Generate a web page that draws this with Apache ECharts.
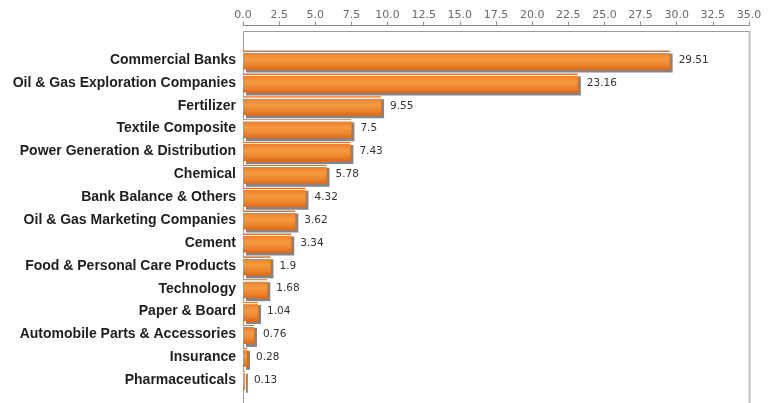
<!DOCTYPE html>
<html>
<head>
<meta charset="utf-8">
<script src="https://cdn.jsdelivr.net/npm/echarts@6/dist/echarts.min.js"></script>
<style>
  html, body { margin: 0; padding: 0; background: #fff; }
  #chart { width: 769px; height: 403px; }
</style>
</head>
<body>
<div id="chart"></div>
<script>
// Sector weights (%), listed top to bottom
var sectors = [
  'Commercial Banks',
  'Oil & Gas Exploration Companies',
  'Fertilizer',
  'Textile Composite',
  'Power Generation & Distribution',
  'Chemical',
  'Bank Balance & Others',
  'Oil & Gas Marketing Companies',
  'Cement',
  'Food & Personal Care Products',
  'Technology',
  'Paper & Board',
  'Automobile Parts & Accessories',
  'Insurance',
  'Pharmaceuticals'
];
var weights = [29.51, 23.16, 9.55, 7.5, 7.43, 5.78, 4.32, 3.62, 3.34, 1.9, 1.68, 1.04, 0.76, 0.28, 0.13];

var axisMin = 0, axisMax = 35, axisStep = 2.5;

var chart = echarts.init(document.getElementById('chart'), null, { renderer: 'canvas' });

// Plot frame edges (pixels)
var frameLeft = 243, frameRight = 749, frameTop = 31, frameBottom = 410;

var barFill = new echarts.graphic.LinearGradient(0, 0, 0, 1, [
  { offset: 0.00, color: '#e2742a' },
  { offset: 0.06, color: '#e2742a' },
  { offset: 0.07, color: '#fff6ea' },
  { offset: 0.12, color: '#fff6ea' },
  { offset: 0.13, color: '#ec8030' },
  { offset: 0.45, color: '#f69a3e' },
  { offset: 0.75, color: '#ee852c' },
  { offset: 1.00, color: '#dd6a1c' }
]);

chart.setOption({
  animation: false,
  grid: { left: frameLeft, right: 769 - frameRight, top: 48.6, bottom: 11.4, containLabel: false },
  xAxis: {
    type: 'value',
    position: 'top',
    min: axisMin,
    max: axisMax,
    interval: axisStep,
    offset: 23,
    axisLine: { show: true, lineStyle: { color: '#8a8a8a', width: 1 } },
    axisTick: { show: true, length: 4, lineStyle: { color: '#8a8a8a' } },
    splitLine: { show: false },
    axisLabel: {
      margin: 5,
      color: '#6a6a6a',
      fontFamily: 'DejaVu Sans',
      fontSize: 11,
      formatter: function (v) { return v.toFixed(1); }
    }
  },
  yAxis: {
    type: 'category',
    inverse: true,
    data: sectors,
    axisLine: { show: false },
    axisTick: { show: false },
    axisLabel: {
      margin: 7,
      color: '#1e1e1e',
      fontFamily: 'Liberation Sans',
      fontWeight: 'bold',
      fontSize: 14
    }
  },
  series: [{
    type: 'bar',
    data: weights,
    barWidth: 19,
    itemStyle: {
      color: barFill,
      shadowColor: '#858585',
      shadowOffsetX: 3,
      shadowOffsetY: 3,
      shadowBlur: 0
    },
    label: {
      show: true,
      position: 'right',
      distance: 9,
      color: '#333',
      fontFamily: 'DejaVu Sans',
      fontSize: 10.5,
      formatter: function (p) { return String(p.value); }
    }
  }],
  graphic: [
    {
      type: 'polyline',
      silent: true,
      shape: { points: [[frameLeft + 0.5, frameBottom], [frameLeft + 0.5, frameTop + 0.5], [frameRight + 0.5, frameTop + 0.5]] },
      style: { stroke: '#9a9a9a', lineWidth: 1, fill: null }
    },
    {
      type: 'line',
      silent: true,
      shape: { x1: frameRight + 0.5, y1: frameTop, x2: frameRight + 0.5, y2: frameBottom },
      style: { stroke: '#bdbdbd', lineWidth: 2 }
    }
  ]
});
</script>
</body>
</html>
